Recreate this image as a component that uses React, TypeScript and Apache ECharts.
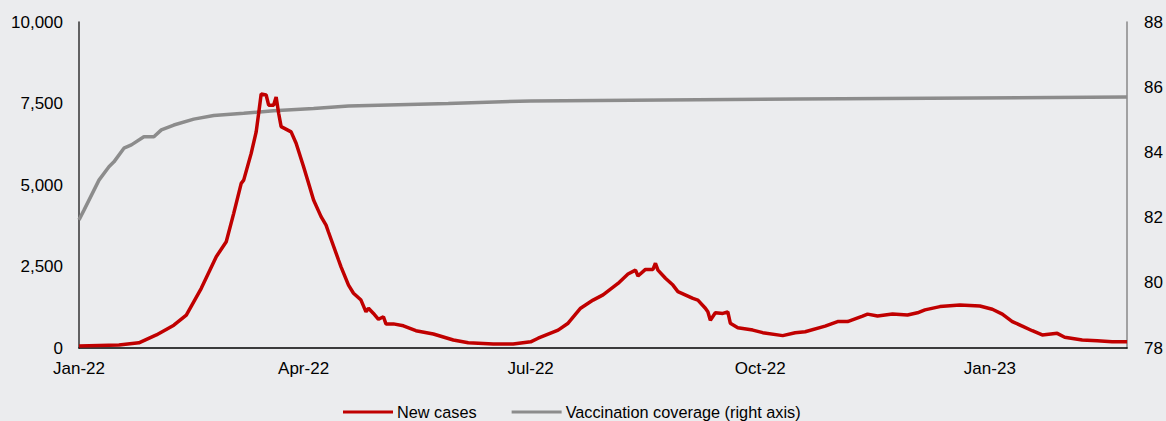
import React, { useEffect, useRef } from "react";
import * as echarts from "echarts";

const caseDates = [
  "2022-01-01", "2022-01-17", "2022-01-25", "2022-02-01", "2022-02-08", "2022-02-13", "2022-02-19", "2022-02-25",
  "2022-03-01", "2022-03-04", "2022-03-07", "2022-03-08", "2022-03-11", "2022-03-13", "2022-03-14", "2022-03-15",
  "2022-03-17", "2022-03-18", "2022-03-20", "2022-03-21", "2022-03-22", "2022-03-23", "2022-03-27", "2022-03-29",
  "2022-04-01", "2022-04-03", "2022-04-05", "2022-04-08", "2022-04-10", "2022-04-11", "2022-04-15", "2022-04-16",
  "2022-04-19", "2022-04-21", "2022-04-24", "2022-04-26", "2022-04-27", "2022-04-29", "2022-05-01", "2022-05-03",
  "2022-05-04", "2022-05-07", "2022-05-11", "2022-05-16", "2022-05-23", "2022-05-31", "2022-06-06", "2022-06-16",
  "2022-06-24", "2022-07-01", "2022-07-04", "2022-07-12", "2022-07-16", "2022-07-21", "2022-07-26", "2022-07-30",
  "2022-08-05", "2022-08-09", "2022-08-12", "2022-08-13", "2022-08-16", "2022-08-19", "2022-08-20", "2022-08-21",
  "2022-08-24", "2022-08-27", "2022-08-29", "2022-09-04", "2022-09-06", "2022-09-09", "2022-09-10", "2022-09-11",
  "2022-09-13", "2022-09-16", "2022-09-18", "2022-09-19", "2022-09-22", "2022-09-28", "2022-10-02", "2022-10-10",
  "2022-10-15", "2022-10-19", "2022-10-27", "2022-11-01", "2022-11-05", "2022-11-11", "2022-11-13", "2022-11-17",
  "2022-11-23", "2022-11-29", "2022-12-03", "2022-12-06", "2022-12-12", "2022-12-20", "2022-12-28", "2023-01-02",
  "2023-01-06", "2023-01-10", "2023-01-14", "2023-01-18", "2023-01-22", "2023-01-28", "2023-01-31", "2023-02-07",
  "2023-02-13", "2023-02-19", "2023-02-25",
];
const caseValues = [
  60, 90, 160, 400, 700, 1010, 1830, 2800,
  3260, 4130, 5050, 5150, 5970, 6630, 7200, 7790,
  7760, 7450, 7450, 7700, 7200, 6790, 6630, 6280,
  5560, 5050, 4540, 4030, 3770, 3550, 2700, 2490,
  1930, 1680, 1470, 1110, 1220, 1060, 880, 960,
  740, 740, 680, 530, 430, 245, 160, 120,
  120, 190, 300, 550, 760, 1220, 1470, 1630,
  1980, 2270, 2390, 2210, 2410, 2410, 2600, 2390,
  2140, 1930, 1730, 1520, 1470, 1220, 1110, 850,
  1080, 1060, 1110, 760, 620, 550, 470, 380,
  470, 500, 670, 810, 810, 980, 1040, 980,
  1040, 1010, 1080, 1170, 1270, 1320, 1290, 1190,
  1040, 810, 670, 530, 400, 450, 330, 245,
  225, 190, 190,
];

const vaccDates = [
  "2022-01-01", "2022-01-03", "2022-01-06", "2022-01-09", "2022-01-13", "2022-01-15", "2022-01-19", "2022-01-22",
  "2022-01-27", "2022-01-31", "2022-02-03", "2022-02-08", "2022-02-16", "2022-02-24", "2022-03-08", "2022-03-20",
  "2022-04-05", "2022-04-19", "2022-05-29", "2022-07-01", "2022-10-16", "2023-02-25",
];
const vaccValues = [
  81.93, 82.23, 82.69, 83.15, 83.56, 83.71, 84.13, 84.23,
  84.48, 84.48, 84.69, 84.84, 85.02, 85.13, 85.2, 85.28,
  85.35, 85.42, 85.5, 85.58, 85.64, 85.7,
];

const quarterTicks = ["2022-01-01", "2022-04-01", "2022-07-01", "2022-10-01", "2023-01-01"];
const startDate = "2022-01-01";
const endDate = "2023-02-25";
const monthNames = ["Jan", "Feb", "Mar", "Apr", "May", "Jun", "Jul", "Aug", "Sep", "Oct", "Nov", "Dec"];

const FONT = "Liberation Sans, Arial, sans-serif";
const FS = 17;
const DAY = 86400000;

function utc(s: string): number {
  const [y, m, d] = s.split("-").map(Number);
  return Date.UTC(y, m - 1, d);
}
function dayIndex(s: string): number {
  return Math.round((utc(s) - utc(startDate)) / DAY);
}
function dayLabel(v: number): string {
  const d = new Date(utc(startDate) + Math.round(v) * DAY);
  return monthNames[d.getUTCMonth()] + "-" + String(d.getUTCFullYear()).slice(2);
}

export default function App() {
  const ref = useRef<HTMLDivElement>(null);

  useEffect(() => {
    if (!ref.current) return;
    const chart = echarts.init(ref.current, undefined, { renderer: "svg" });
    const option: any = {
      animation: false,
      backgroundColor: "#ebecee",
      grid: { left: 79, right: 38, top: 22, bottom: 73, containLabel: false },
      legend: {
        top: 404,
        left: 343,
        padding: 0,
        itemWidth: 50,
        itemHeight: 3,
        itemGap: 35,
        icon: "rect",
        textStyle: { fontFamily: FONT, fontSize: 16.3, color: "#000", padding: [0, 0, 0, -1] },
        data: ["New cases", "Vaccination coverage (right axis)"],
      },
      xAxis: {
        type: "value",
        min: 0,
        max: dayIndex(endDate),
        axisLine: { show: true, onZero: false, lineStyle: { color: "#000", width: 1.5 } },
        axisTick: { show: false },
        splitLine: { show: false },
        axisLabel: {
          customValues: quarterTicks.map(dayIndex),
          margin: 12,
          fontFamily: FONT,
          fontSize: FS,
          color: "#000",
          formatter: (v: number) => dayLabel(v),
        },
      },
      yAxis: [
        {
          type: "value",
          min: 0,
          max: 10000,
          interval: 2500,
          position: "left",
          axisLine: { show: true, lineStyle: { color: "#333", width: 1.5 } },
          axisTick: { show: false },
          splitLine: { show: false },
          axisLabel: {
            margin: 16,
            fontFamily: FONT,
            fontSize: FS,
            color: "#000",
            formatter: (v: number) => v.toLocaleString("en-US"),
          },
        },
        {
          type: "value",
          min: 78,
          max: 88,
          interval: 2,
          position: "right",
          axisLine: { show: true, lineStyle: { color: "#888", width: 1.5 } },
          axisTick: { show: false },
          splitLine: { show: false },
          axisLabel: { margin: 17, fontFamily: FONT, fontSize: FS, color: "#000" },
        },
      ],
      series: [
        {
          name: "New cases",
          type: "line",
          yAxisIndex: 0,
          showSymbol: false,
          symbol: "none",
          lineStyle: { color: "#c00000", width: 3.5 },
          itemStyle: { color: "#c00000" },
          data: caseDates.map((d, i) => [dayIndex(d), caseValues[i]]),
          z: 3,
        },
        {
          name: "Vaccination coverage (right axis)",
          type: "line",
          yAxisIndex: 1,
          showSymbol: false,
          symbol: "none",
          lineStyle: { color: "#8c8c8c", width: 3.5 },
          itemStyle: { color: "#8c8c8c" },
          data: vaccDates.map((d, i) => [dayIndex(d), vaccValues[i]]),
          z: 2,
        },
      ],
    };
    chart.setOption(option);
    return () => chart.dispose();
  }, []);

  return (
    <div
      ref={ref}
      style={{ position: "absolute", left: 0, top: 0, width: 1166, height: 421 }}
    />
  );
}
